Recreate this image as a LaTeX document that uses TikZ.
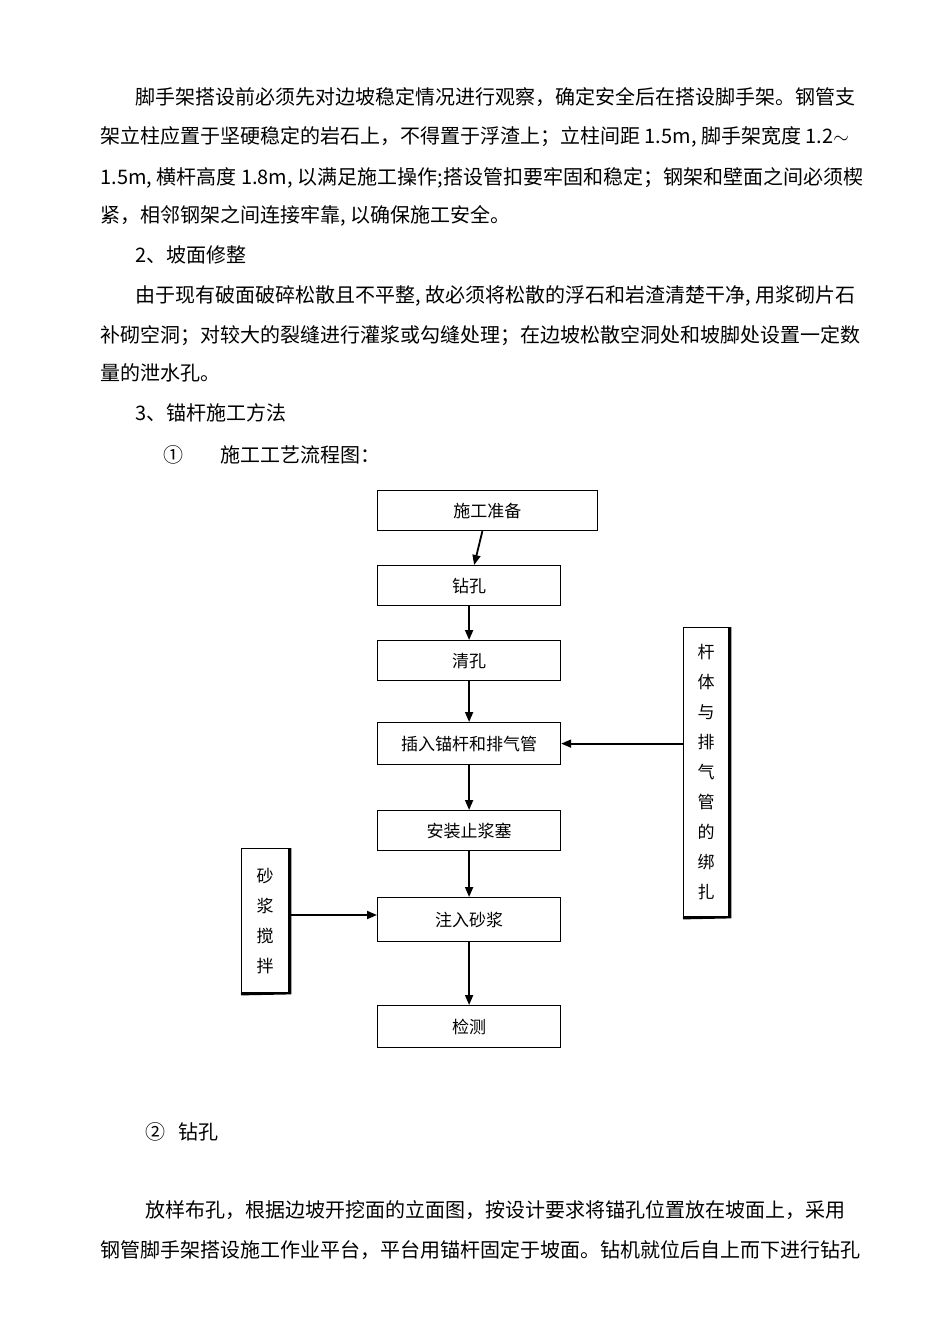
\documentclass[tikz,border=0pt]{standalone}
\usepackage{fontspec}
\setmainfont{Noto Sans CJK SC}
\usetikzlibrary{arrows.meta}
\begin{document}
\begin{tikzpicture}[x=0.5pt,y=-0.5pt,
  txt/.style={anchor=base west,inner sep=0,font=\fontsize{10}{12}\selectfont},
  box/.style={draw,line width=0.6pt,inner sep=0,font=\fontsize{8.5}{10}\selectfont},
  sbox/.style={box,align=center,font=\fontsize{8.5}{15}\selectfont},
  arr/.style={line width=0.9pt,-{Triangle[length=5pt,width=4pt]}}]
\fill[white] (0,0) rectangle (950,1344);
\useasboundingbox (0,0) rectangle (950,1344);
\node[txt] (p1) at (135,104) {脚手架搭设前必须先对边坡稳定情况进行观察，确定安全后在搭设脚手架。钢管支};
\node[txt] (p2) at (100,143) {架立柱应置于坚硬稳定的岩石上，不得置于浮渣上；立柱间距 1.5m, 脚手架宽度 1.2$\sim$};
\node[txt] (p3) at (100,184) {1.5m, 横杆高度 1.8m, 以满足施工操作;搭设管扣要牢固和稳定；钢架和壁面之间必须楔};
\node[txt] (p4) at (100,222) {紧，相邻钢架之间连接牢靠, 以确保施工安全。};
\node[txt] (h2) at (135,262) {2、坡面修整};
\node[txt] (q1) at (135,302) {由于现有破面破碎松散且不平整, 故必须将松散的浮石和岩渣清楚干净, 用浆砌片石};
\node[txt] (q2) at (100,342) {补砌空洞；对较大的裂缝进行灌浆或勾缝处理；在边坡松散空洞处和坡脚处设置一定数};
\node[txt] (q3) at (100,380) {量的泄水孔。};
\node[txt] (h3) at (135,420) {3、锚杆施工方法};
\node[txt] (c1) at (163,462) {①};
\node[txt] (h4) at (220,462) {施工工艺流程图：};
\node[txt] (c2) at (145,1139) {②};
\node[txt] (h5) at (178,1139) {钻孔};
\node[txt] (r1) at (145,1217) {放样布孔，根据边坡开挖面的立面图，按设计要求将锚孔位置放在坡面上，采用};
\node[txt] (r2) at (100,1257) {钢管脚手架搭设施工作业平台，平台用锚杆固定于坡面。钻机就位后自上而下进行钻孔};
% flowchart
\node[box,minimum width=183\pgflinewidth,anchor=north west,text width=91.5pt,minimum height=20pt,align=center] (b1) at (377,490) {施工准备};
\node[box,anchor=north west,text width=91.5pt,minimum height=20pt,align=center] (b2) at (377,565) {钻孔};
\node[box,anchor=north west,text width=91.5pt,minimum height=20pt,align=center] (b3) at (377,640) {清孔};
\node[box,anchor=north west,text width=91.5pt,minimum height=21pt,align=center] (b4) at (377,722) {插入锚杆和排气管};
\node[box,anchor=north west,text width=91.5pt,minimum height=20pt,align=center] (b5) at (377,810) {安装止浆塞};
\node[box,anchor=north west,text width=91.5pt,minimum height=22pt,align=center] (b6) at (377,897) {注入砂浆};
\node[box,anchor=north west,text width=91.5pt,minimum height=21pt,align=center] (b7) at (377,1005) {检测};
\node[sbox,anchor=north west,text width=22.5pt,minimum height=144.5pt] (rb) at (683,627) {杆\\体\\与\\排\\气\\管\\的\\绑\\扎};
\node[sbox,anchor=north west,text width=23.5pt,minimum height=72pt] (lb) at (241,848) {砂\\浆\\搅\\拌};
\draw[line width=1.2pt] ([xshift=0.5pt]rb.north east) -- ([xshift=0.5pt]rb.south east) -- ([yshift=-0.5pt]rb.south west);
\draw[line width=1.2pt] ([xshift=0.5pt]lb.north east) -- ([xshift=0.5pt]lb.south east) -- ([yshift=-0.5pt]lb.south west);
\draw[arr] (b1) -- (b2);
\draw[arr] (b2) -- (b3);
\draw[arr] (b3) -- (b4);
\draw[arr] (b4) -- (b5);
\draw[arr] (b5) -- (b6);
\draw[arr] (b6) -- (b7);
\draw[arr] (rb.west |- b4.east) -- (b4.east);
\draw[arr] (lb.east |- 0,915) -- (b6.west |- 0,915);
\end{tikzpicture}
\end{document}
